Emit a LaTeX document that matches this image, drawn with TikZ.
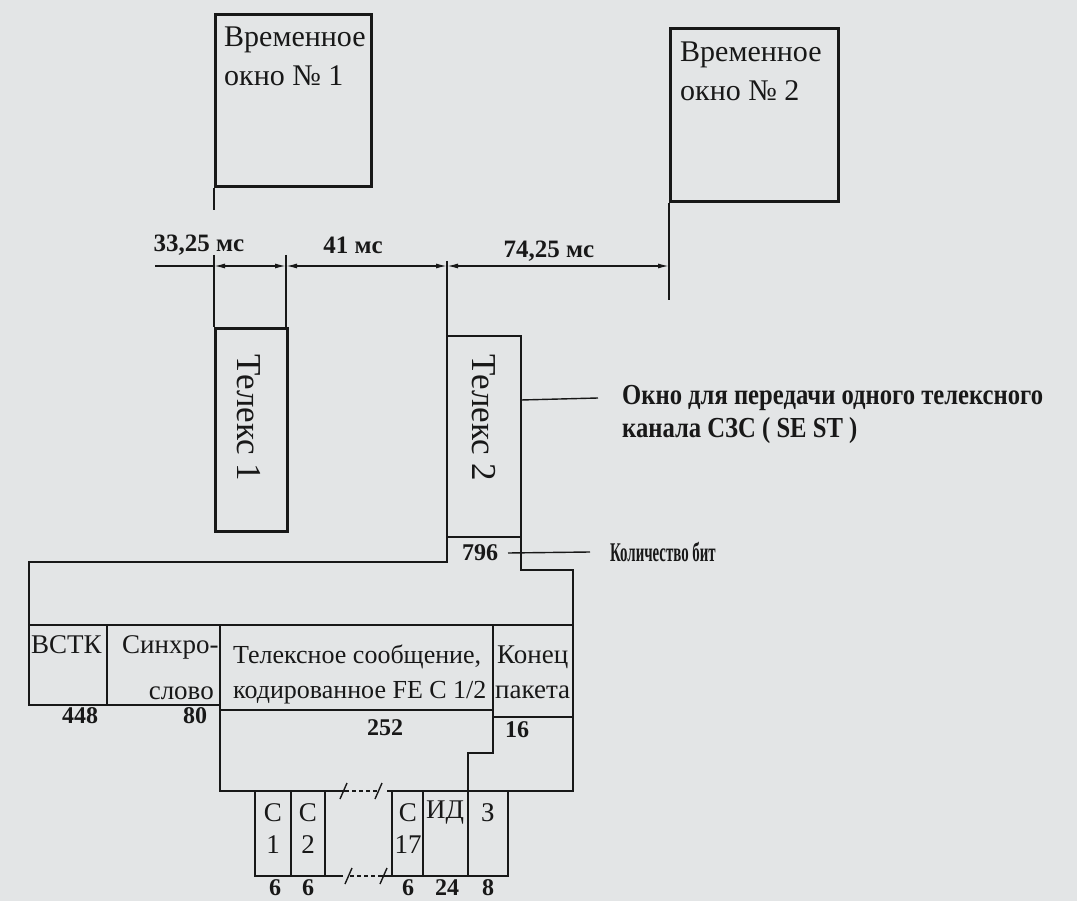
\documentclass[tikz,border=0pt]{standalone}
\usepackage{fontspec}
\setmainfont{Liberation Serif}
\newfontfamily\condfont[FakeStretch=0.85]{Liberation Serif}
\newfontfamily\narrowfont[FakeStretch=0.55]{Liberation Serif}
\usepackage{tikz}
\usetikzlibrary{arrows.meta,positioning,calc}
\definecolor{paper}{RGB}{227,229,230}
\definecolor{ink}{RGB}{24,24,24}

\begin{document}
\begin{tikzpicture}[x=1pt,y=-1pt,line join=miter,
  every node/.style={inner sep=0pt,text=ink},
  frame/.style={draw=ink,line width=2.6pt},
  cell/.style={draw=ink,line width=1.9pt},
  thin/.style={draw=ink,line width=1.4pt},
  dim/.style={thin,{Latex[length=11pt,width=5pt]}-{Latex[length=11pt,width=5pt]}},
  title/.style={font=\fontsize{30}{39}\selectfont,align=left,anchor=north west},
  telex/.style={font=\fontsize{35}{38}\selectfont,rotate=-90},
  lbl/.style={font=\fontsize{27}{35}\selectfont},
  msg/.style={font=\fontsize{26}{35}\selectfont,anchor=base west},
  num/.style={font=\bfseries\fontsize{24}{26}\selectfont},
  ms/.style={font=\bfseries\fontsize{25}{28}\selectfont},
  note/.style={font=\condfont\bfseries\fontsize{29}{34}\selectfont,anchor=west},
  smallnote/.style={font=\narrowfont\bfseries\fontsize{27}{30}\selectfont,anchor=west}]

  \fill[paper] (0,0) rectangle (1077,901);
  \useasboundingbox (0,0) rectangle (1077,901);

  % time windows
  \node[frame,minimum width=156pt,minimum height=172pt,anchor=north west] (w1) at (214,13) {};
  \node[title] (w1t) at (224,27) {Временное\\окно № 1};
  \node[frame,minimum width=168pt,minimum height=173pt,anchor=north west] (w2) at (669,27) {};
  \node[title] (w2t) at (680,42) {Временное\\окно № 2};

  % telex slots
  \node[frame,minimum width=72pt,minimum height=203pt,anchor=north west] (t1) at (214,327) {};
  \node[telex] (t1t) at (249,418) {Телекс 1};
  \node[telex] (t2t) at (484,418) {Телекс 2};

  % timing
  \coordinate (d0) at (155,266);
  \coordinate (d1) at (214,266);
  \coordinate (d2) at (286,266);
  \coordinate (d3) at (447,266);
  \coordinate (d4) at (669,266);
  \draw[thin] (d0) -- (d1);
  \draw[dim] (d1) -- (d2);
  \draw[dim] (d2) -- (d3);
  \draw[dim] (d3) -- (d4);
  \draw[thin] (w1.south west) -- ++(0,22);
  \draw[thin] (d1) ++(0,-11) -- ++(0,72);
  \draw[thin] (d2) ++(0,-11) -- ++(0,72);
  \draw[thin] (d3) ++(0,-5) -- (447,336);
  \draw[thin] (w2.south west) -- (669,300);
  \node[ms] (ms1) at (199,245) {33,25 мс};
  \node[ms] (ms2) at (353,245) {41 мс};
  \node[ms] (ms3) at (549,251) {74,25 мс};

  % packet outline with telex 2
  \draw[frame] (343,876) -- (255,876) -- (255,791) -- (220,791) -- (220,705) -- (29,705)
    -- (29,562) -- (447,562) -- (447,336) -- (521,336) -- (521,570) -- (573,570)
    -- (573,791) -- (508,791) -- (508,876) -- (382,876);
  \draw[cell] (447,537) -- (521,537);

  % packet fields
  \draw[cell] (29,625) -- (573,625);
  \draw[cell] (107,625) -- (107,705);
  \draw[cell] (220,625) -- (220,705);
  \draw[cell] (220,710) -- (493,710);
  \draw[cell] (493,625) -- (493,753) -- (468,753) -- (468,876);
  \draw[cell] (493,717) -- (573,717);
  \draw[cell] (255,791) -- (348,791) (387,791) -- (508,791);
  \foreach \x in {291,325,392,423}
    \draw[cell] (\x,791) -- (\x,876);
  \foreach \y/\a in {791/5,876/0} {
    \draw[thin,dash pattern=on 4pt off 3pt] (350-\a,\y) -- (384-\a,\y);
    \draw[thin] (345-\a,\y+8) -- (352-\a,\y-8);
    \draw[thin] (380-\a,\y+8) -- (387-\a,\y-8);
  }

  \node[lbl,anchor=base west] (vstk) at (31,653) {ВСТК};
  \node[lbl,anchor=base west] (sync1) at (122,653) {Синхро-};
  \node[lbl,anchor=base east] (sync2) at (214,699) {слово};
  \node[msg] (msg1) at (233,663) {Телексное сообщение,};
  \node[msg] (msg2) at (233,698) {кодированное FE C 1/2};
  \node[lbl,anchor=base west] (end1) at (497,663) {Конец};
  \node[lbl,anchor=base west] (end2) at (495,698) {пакета};

  \node[num] (n448) at (80,716) {448};
  \node[num] (n80) at (195,716) {80};
  \node[num] (n252) at (385,728) {252};
  \node[num] (n16) at (517,730) {16};
  \node[num] (n796) at (480,553) {796};

  % characters
  \foreach \x/\n in {273/1,308/2,408/17} {
    \node[lbl] (c\n) at (\x,813) {С};
    \node[lbl] (cn\n) at (\x,845) {\n};
  }
  \node[lbl] (id) at (445,813) {ИД};
  \node[lbl] (z) at (488,813) {З};
  \foreach \x/\v [count=\i] in {275/6,308/6,408/6,447/24,488/8}
    \node[num] (b\i) at (\x,888) {\v};

  % notes
  \coordinate (t2e) at (521,400);
  \coordinate (bitse) at (508,553);
  \node[note] (noteA) at (622,398) {Окно для передачи одного телексного};
  \node[note] (noteB) at (622,431) {канала СЗС ( SE ST )};
  \node[smallnote] (noteC) at (610,552) {Количество бит};
  \draw[thin] (t2e) -- ([xshift=-24pt]noteA.west);
  \draw[thin] (bitse) -- ([xshift=-20pt]noteC.west);
\end{tikzpicture}
\end{document}
